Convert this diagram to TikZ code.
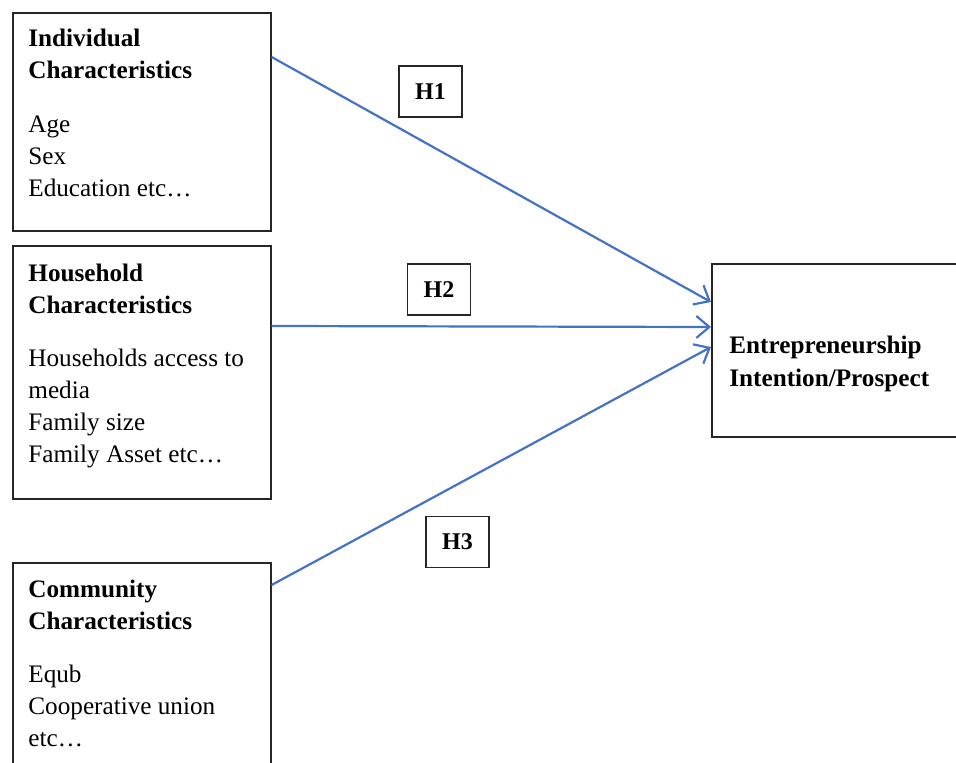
\documentclass[tikz,border=0pt]{standalone}
\usepackage{fontspec}
\setmainfont{Liberation Serif}
\usetikzlibrary{positioning,arrows.meta}
\definecolor{hypblue}{RGB}{68,114,196}
\tikzset{
factor/.style={draw=black!85, line width=0.8pt, anchor=north west},
factortext/.style={inner sep=0pt, align=left, font=\fontsize{12.6}{16}\selectfont},
hyp/.style={draw=black!85, line width=0.7pt, minimum width=31.5pt, minimum height=25.5pt, font=\bfseries\fontsize{12}{14}\selectfont},
link/.style={draw=hypblue, line width=1.1pt, -{Straight Barb[length=6.5pt,width=11pt]}}
}
\begin{document}
\begin{tikzpicture}[x=0.5pt,y=-0.5pt]
\useasboundingbox (0,0) rectangle (956,763);
\clip (0,0) rectangle (956,763);
\node[factor, minimum width=129pt, minimum height=109pt](indiv) at (12,12) {};
\node[factor, minimum width=129pt, minimum height=126.5pt](house) at (12,245) {};
\node[factor, minimum width=129pt, minimum height=120pt](commu) at (12,562) {};
\node[factor, minimum width=130pt, minimum height=86.5pt](outcome) at (711,263) {};
\node[factortext, below right=8.5pt and 8pt of indiv.north west](indivtext) {\textbf{Individual}\\\textbf{Characteristics}\\[11pt]Age\\Sex\\Education etc…};
\node[factortext, below right=9.5pt and 8pt of house.north west](housetext) {\textbf{Household}\\\textbf{Characteristics}\\[10.5pt]Households access to\\media\\Family size\\Family Asset etc…};
\node[factortext, below right=9pt and 8pt of commu.north west](commutext) {\textbf{Community}\\\textbf{Characteristics}\\[10.5pt]Equb\\Cooperative union\\etc…};
\node[factortext, font=\bfseries\fontsize{12.6}{16.5}\selectfont, below right=36.5pt and 9pt of outcome.north west](outcometext) {Entrepreneurship\\Intention/Prospect};
\node[hyp](h1) at (430.5,91.5) {H1};
\node[hyp](h2) at (439,289.5) {H2};
\node[hyp](h3) at (457.5,542) {H3};
\draw[link]([yshift=-22.5pt]indiv.north east)--([yshift=-19.5pt]outcome.north west);
\draw[link]([yshift=-40.5pt]house.north east)--([yshift=-32pt]outcome.north west);
\draw[link]([yshift=-11.5pt]commu.north east)--([yshift=-42pt]outcome.north west);
\end{tikzpicture}
\end{document}
